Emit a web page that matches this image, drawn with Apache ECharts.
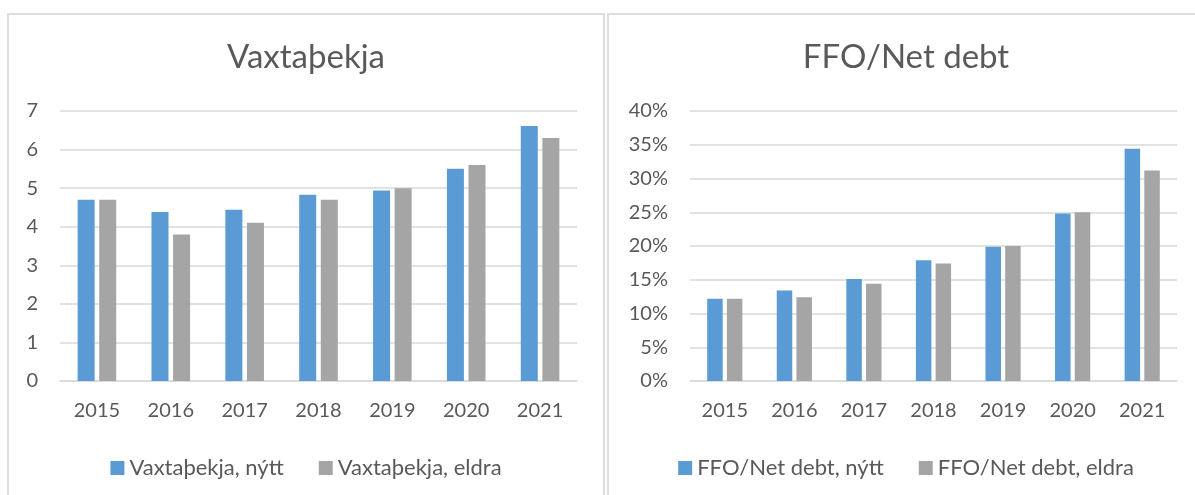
<!DOCTYPE html>
<html>
<head>
<meta charset="utf-8">
<script src="https://cdn.jsdelivr.net/npm/echarts@6/dist/echarts.min.js"></script>
<style>
  html, body { margin: 0; padding: 0; background: #fff; width: 1195px; height: 495px; overflow: hidden; }
  .frame { position: absolute; top: 13px; width: 594px; height: 500px; border: 2px solid #dedede; }
  .chart { width: 594px; height: 500px; }
</style>
</head>
<body>
<div class="frame" style="left: 7px;"><div id="chart_left" class="chart"></div></div>
<div class="frame" style="left: 607px;"><div id="chart_right" class="chart"></div></div>
<script>
// categories
var years = ['2015', '2016', '2017', '2018', '2019', '2020', '2021']

// Vaxtaþekja
var vaxta_nytt = [4.7, 4.38, 4.44, 4.83, 4.94, 5.5, 6.61]
var vaxta_eldra = [4.7, 3.8, 4.1, 4.7, 5.0, 5.6, 6.3]

// FFO/Net debt (%)
var ffo_nytt = [12.2, 13.4, 15.1, 17.9, 19.9, 24.8, 34.4]
var ffo_eldra = [12.2, 12.4, 14.4, 17.4, 20.0, 25.0, 31.2]

var font = 'Lato, "Open Sans", sans-serif'
var text_color = '#595959'
var blue = '#5b9bd5'
var gray = '#a5a5a5'

function make_option (title, names, data1, data2, yMax, yInterval, yFormatter, gridLeft, barWidth) {
  return {
    animation: false,
    textStyle: { fontFamily: font },
    title: {
      text: title,
      left: 'center',
      top: 21,
      textStyle: { fontFamily: font, fontSize: 33, fontWeight: 'normal', color: text_color }
    },
    legend: {
      data: names,
      left: 'center',
      top: 437,
      itemWidth: 14,
      itemHeight: 14,
      itemGap: 35,
      icon: 'rect',
      textStyle: { fontFamily: font, fontSize: 22, color: text_color }
    },
    grid: { left: gridLeft, right: 26, top: 96, height: 270 },
    xAxis: {
      type: 'category',
      data: years,
      axisTick: { show: false },
      axisLine: { lineStyle: { color: '#d9d9d9', width: 1.5 } },
      axisLabel: { fontFamily: font, fontSize: 20, color: text_color, margin: 20 }
    },
    yAxis: {
      type: 'value',
      min: 0,
      max: yMax,
      interval: yInterval,
      axisLine: { show: false },
      axisTick: { show: false },
      splitLine: { lineStyle: { color: '#d9d9d9', width: 1.5 } },
      axisLabel: { fontFamily: font, fontSize: 20, color: text_color, margin: 22, formatter: yFormatter }
    },
    series: [
      { name: names[0], type: 'bar', data: data1, barWidth: barWidth, barGap: '27%', itemStyle: { color: blue } },
      { name: names[1], type: 'bar', data: data2, barWidth: barWidth, itemStyle: { color: gray } }
    ]
  }
}

var chart_left = echarts.init(document.getElementById('chart_left'))
chart_left.setOption(make_option('Vaxtaþekja', ['Vaxtaþekja, nýtt', 'Vaxtaþekja, eldra'],
  vaxta_nytt, vaxta_eldra, 7, 1, '{value}', 51, 17))

var chart_right = echarts.init(document.getElementById('chart_right'))
chart_right.setOption(make_option('FFO/Net debt', ['FFO/Net debt, nýtt', 'FFO/Net debt, eldra'],
  ffo_nytt, ffo_eldra, 40, 5, '{value}%', 81, 15.5))
</script>
</body>
</html>
